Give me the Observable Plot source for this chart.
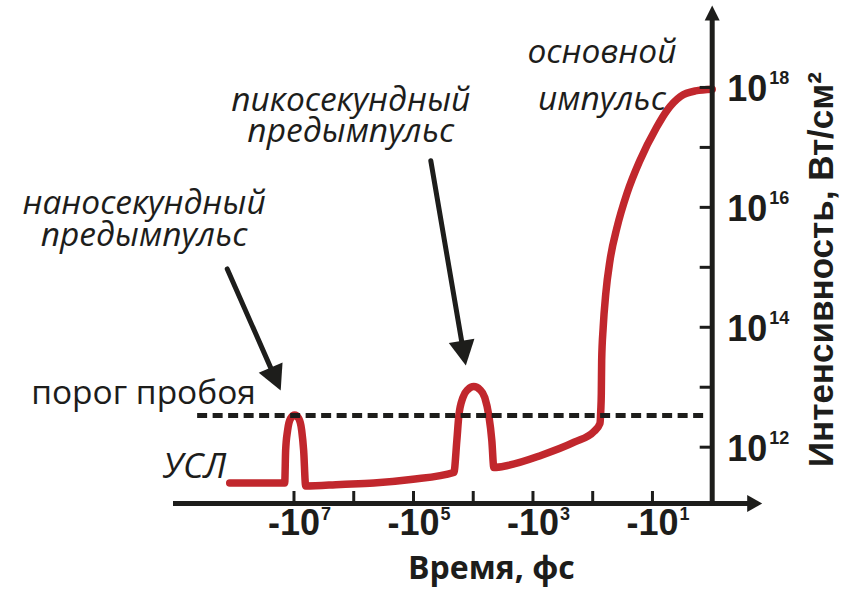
<!DOCTYPE html>
<html><head><meta charset="utf-8">
<script src="https://cdn.jsdelivr.net/npm/d3@7"></script>
<script src="https://cdn.jsdelivr.net/npm/@observablehq/plot@0.6"></script>
<style>body{margin:0;background:#fff} #chart svg{display:block}</style>
</head><body><div id="chart"></div>
<script>
// ---------- data ----------
const timeFs = [-1.19e8, -1.43e7, -1.38e7, -1.28e7, -1.14e7, -9.73e6, -8.34e6, -7.43e6, -6.89e6, -6.37e6,
  -1.65e6, -4.62e5, -1.11e5, -2.11e4, -1.88e4, -1.74e4, -1.49e4, -1.23e4, -9.77e3, -7.74e3,
  -6.40e3, -5.48e3, -4.88e3, -4.52e3, -2.66e3, -738, -204, -94.4, -75.7, -73.3,
  -71.8, -70.8, -66.8, -60.4, -51.4, -39.2, -26.7, -16.2, -8.56, -5.71, -3.40, -1.91, -1];
const intensity = [2.53e11, 2.53e11, 8.81e11, 1.90e12, 3.01e12, 3.44e12, 3.01e12, 1.90e12, 8.81e11, 2.25e11,
  2.39e11, 2.53e11, 2.90e11, 3.78e11, 1.29e12, 3.37e12, 6.73e12, 9.16e12, 1.03e13, 9.16e12,
  6.73e12, 3.37e12, 1.29e12, 4.59e11, 4.95e11, 7.28e11, 1.21e12, 1.84e12, 2.48e12, 4.09e12,
  7.85e12, 2.79e13, 9.91e13, 3.66e14, 1.30e15, 4.62e15, 1.71e16, 6.06e16, 2.15e17, 4.14e17, 7.08e17, 8.75e17, 9.33e17];
const thresholdIntensity = 3.37e12;
const thresholdStart = -4.1e8;
const thresholdEnd = -1.28;

const xTickValues = [-1e7, -1e6, -1e5, -1e4, -1e3, -1e2, -1e1];
const xLabelValues = [-1e7, -1e5, -1e3, -1e1];
const xLabelExps = ["7", "5", "3", "1"];
const yTickValues = [1e12, 1e13, 1e14, 1e15, 1e16, 1e17, 1e18];
const yLabelValues = [1e12, 1e14, 1e16, 1e18];
const yLabelExps = ["12", "14", "16", "18"];

const xTitle = "Время, фс";
const yTitle = "Интенсивность, Вт/см²";

// annotations (positions in data coordinates)
const noteTexts = ["наносекундный\nпредымпульс", "пикосекундный\nпредымпульс", "основной\nимпульс"];
const noteTimes = [-3.23e9, -1.12e6, -70.1];
const noteIntensities = [6.29e15, 3.3e17, 1.87e18];
const noteLineHeights = [0.97, 0.92, 1.4];
const arrowFromTimes = [-1.31e8, -5.13e4];
const arrowFromIntensities = [9.4e14, 6.0e16];
const arrowToTimes = [-1.67e7, -1.33e4];
const arrowToIntensities = [8.81e12, 2.3e13];
const thresholdLabel = {text: "порог пробоя", t: -3.3e9, I: 7.91e12};
const uslLabel = {text: "УСЛ", t: -4.6e8, I: 4.7e11};
const yTitlePos = {t: -0.0148, I: 9.16e14};

// ---------- layout / style ----------
const W = 843, H = 599;
const ML = 174, MR = 131.3, MT = 27, MB = 96;
const xDomain = [-1e9, -1];
const yDomain = [1.15e11, 1e19];
const frameW = W - MR - ML, frameH = H - MB - MT;
const RED = "#c1272d", INK = "#1d1d1b";
const sansBold = "'Liberation Sans',Arial,Helvetica,sans-serif";
const humanist = "'Open Sans','Noto Sans',sans-serif";

const sx = Plot.scale({x: {type: "log", domain: xDomain, range: [ML, W - MR]}});
const sy = Plot.scale({y: {type: "log", domain: yDomain, range: [H - MB, MT]}});

function head(angle, len, half) {
  const c = Math.cos(angle), s = Math.sin(angle);
  return {draw(ctx) {
    const bx = -len * c, by = -len * s, px = -s * half, py = c * half;
    ctx.moveTo(0, 0); ctx.lineTo(bx + px, by + py); ctx.lineTo(bx - px, by - py); ctx.closePath();
  }};
}

const curve = timeFs.map((t, i) => ({t, I: intensity[i]}));
const marks = [];

marks.push(Plot.line(curve, {x: "t", y: "I", stroke: RED, strokeWidth: 7.5, curve: "monotone-x", strokeLinejoin: "round"}));
marks.push(Plot.ruleY([thresholdIntensity], {x1: thresholdStart, x2: thresholdEnd, stroke: INK, strokeWidth: 5, strokeDasharray: "10,5.5"}));

// axes
marks.push(Plot.ruleY([yDomain[0]], {stroke: INK, strokeWidth: 5, insetRight: -37, insetLeft: -1}));
marks.push(Plot.ruleX([xDomain[1]], {stroke: INK, strokeWidth: 5, insetTop: -8, insetBottom: -2.5}));
marks.push(Plot.ruleX(xTickValues, {x: d => d, stroke: INK, strokeWidth: 3, insetTop: frameH - 12}));
marks.push(Plot.ruleY(yTickValues, {y: d => d, stroke: INK, strokeWidth: 3, insetLeft: frameW - 12}));
marks.push(Plot.dot([[xDomain[1], yDomain[0]]], {dx: 50, r: 5, fill: INK, symbol: head(0, 15, 8.5)}));
marks.push(Plot.dot([[xDomain[1], yDomain[1]]], {dy: -22, r: 5, fill: INK, symbol: head(-Math.PI / 2, 15, 7.5)}));

// tick labels
marks.push(Plot.text(xLabelValues, {x: d => d, frameAnchor: "bottom", text: () => "-10", dy: 31, fontSize: 36, fontWeight: "bold", fontFamily: sansBold, fill: INK}));
marks.push(Plot.text(xLabelValues, {x: d => d, frameAnchor: "bottom", text: (d, i) => xLabelExps[i], textAnchor: "start", dx: 27, dy: 16, fontSize: 18, fontWeight: "bold", fontFamily: sansBold, fill: INK}));
marks.push(Plot.text(yLabelValues, {y: d => d, frameAnchor: "right", text: () => "10", textAnchor: "start", dx: 15, dy: 2.5, fontSize: 36, fontWeight: "bold", fontFamily: sansBold, fill: INK}));
marks.push(Plot.text(yLabelValues, {y: d => d, frameAnchor: "right", text: (d, i) => yLabelExps[i], textAnchor: "start", dx: 57, dy: -9, fontSize: 18, fontWeight: "bold", fontFamily: sansBold, fill: INK}));

// titles
marks.push(Plot.text([xTitle], {frameAnchor: "bottom", text: d => d, dx: 48, dy: 75, fontSize: 32, fontWeight: "bold", fontFamily: humanist, fill: INK}));
marks.push(Plot.text([yTitle], {x: yTitlePos.t, y: yTitlePos.I, text: d => d, rotate: -90, fontSize: 35, fontWeight: "bold", fontFamily: sansBold, fill: INK}));

// annotations
noteTexts.forEach((txt, i) => {
  marks.push(Plot.text([txt], {x: noteTimes[i], y: noteIntensities[i], text: d => d, lineHeight: noteLineHeights[i], fontSize: 33.5, fontStyle: "italic", fontFamily: humanist, fill: INK}));
});
marks.push(Plot.text([thresholdLabel], {x: "t", y: "I", text: "text", fontSize: 33.5, fontFamily: humanist, fill: INK}));
marks.push(Plot.text([uslLabel], {x: "t", y: "I", text: "text", fontSize: 35, fontStyle: "italic", fontFamily: humanist, fill: INK}));

arrowFromTimes.forEach((t1, i) => {
  const x1 = sx.apply(t1), y1 = sy.apply(arrowFromIntensities[i]);
  const x2 = sx.apply(arrowToTimes[i]), y2 = sy.apply(arrowToIntensities[i]);
  const ang = Math.atan2(y2 - y1, x2 - x1);
  marks.push(Plot.arrow([0], {x1: t1, y1: arrowFromIntensities[i], x2: arrowToTimes[i], y2: arrowToIntensities[i], stroke: INK, strokeWidth: 5, headLength: 0, insetEnd: 16}));
  marks.push(Plot.dot([[arrowToTimes[i], arrowToIntensities[i]]], {r: 5, fill: INK, symbol: head(ang, 25, 13)}));
});

const chart = Plot.plot({
  width: W, height: H,
  marginLeft: ML, marginRight: MR, marginTop: MT, marginBottom: MB,
  x: {type: "log", domain: xDomain, axis: null},
  y: {type: "log", domain: yDomain, axis: null},
  style: {background: "#fff", color: INK, overflow: "visible"},
  marks
});
document.getElementById("chart").appendChild(chart);
</script>
</body></html>
